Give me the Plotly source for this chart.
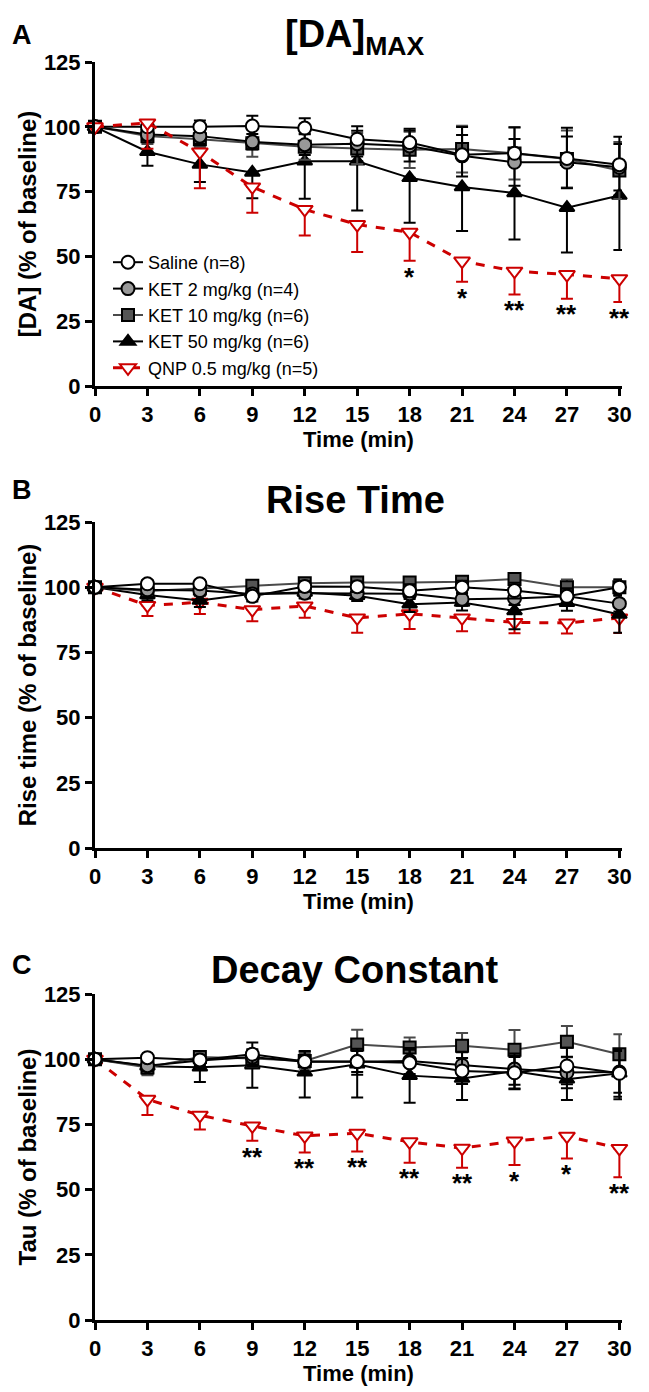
import plotly.graph_objects as go

W, H = 649, 1392
time_min = [0, 3, 6, 9, 12, 15, 18, 21, 24, 27, 30]
x_ticks = [0, 3, 6, 9, 12, 15, 18, 21, 24, 27, 30]
y_ticks = [0, 25, 50, 75, 100, 125]

series_names = ["Saline (n=8)", "KET 2 mg/kg (n=4)", "KET 10 mg/kg (n=6)",
                "KET 50 mg/kg (n=6)", "QNP 0.5 mg/kg (n=5)"]

# ---- Panel A: [DA]max ----
saline_A = [100, 100, 100, 100.3, 99.5, 95.2, 93.9, 89.2, 89.8, 87.8, 85.4]
saline_A_up = [0, 1.5, 2.4, 4, 3.8, 5, 5.3, 10.7, 10, 11.8, 10.8]
saline_A_dn = [0, 0, 0, 0, 0, 0, 0, 0, 0, 0, 0]
ket2_A = [100, 97, 96.4, 94.2, 93.1, 93.5, 92.6, 88.8, 86.3, 86.3, 84.4]
ket2_A_err = [0, 2, 3, 3, 4, 5, 6, 8, 9, 10, 9]
ket10_A = [100, 96.4, 95.2, 93.7, 92.3, 91.6, 91.1, 91.4, 89.7, 87.6, 83.1]
ket10_A_err = [0, 3, 3, 5.3, 5, 6, 7, 9, 10, 11, 11]
ket50_A = [100, 90.4, 85.5, 82.4, 86.7, 86.7, 80.3, 76.8, 74.5, 68.8, 73.5]
ket50_A_dn = [0, 5.4, 6.8, 10, 14.5, 19, 17.3, 17, 18, 17.3, 21]
qnp_A = [100, 101.5, 90.3, 76.8, 68.1, 62.3, 59.3, 48.2, 44.3, 43, 41.4]
qnp_A_dn = [0, 10, 14, 10, 10, 10.6, 11, 8, 9, 9.3, 9]
stars_A = ["", "", "", "", "", "", "*", "*", "**", "**", "**"]

# ---- Panel B: Rise time ----
saline_B = [100, 101.3, 101.3, 96.5, 100.3, 100.2, 98.6, 100, 98.7, 96.5, 100]
saline_B_err = [0, 1.5, 1.5, 2, 2, 2, 2.5, 2.5, 3, 3, 3]
ket2_B = [100, 99, 98.7, 97.4, 97.7, 97.6, 97.5, 95.4, 95.7, 96.5, 93.7]
ket2_B_err = [0, 1.5, 2, 2, 2, 2, 2, 2.5, 2.5, 3, 3]
ket10_B = [100, 98.5, 99.5, 100.6, 101.5, 101.8, 101.8, 102.1, 103.1, 100, 100]
ket10_B_err = [0, 1, 1.5, 1.5, 1.5, 1.5, 1.5, 1.5, 1.5, 3, 3]
ket50_B = [100, 97, 94.9, 97.5, 98, 96.7, 93.5, 94.1, 90.9, 94, 89.5]
ket50_B_dn = [0, 2, 2.5, 2, 2, 2, 3, 3, 7, 3, 7]
qnp_B = [100, 93, 94.2, 91.4, 92.8, 88.2, 89.8, 88.2, 86.5, 86.3, 88.2]
qnp_B_dn = [0, 4, 4.5, 4.5, 4.5, 5.7, 5.8, 5.1, 4.2, 4.1, 5.8]
stars_B = [""] * 11

# ---- Panel C: Decay constant (tau) ----
saline_C = [100, 100.6, 99.7, 101.9, 99.1, 99.1, 98.6, 95.5, 94.8, 97.4, 94.6]
saline_C_err = [0, 1, 1.5, 4.5, 4, 4, 5, 5, 6, 7, 9]
ket2_C = [100, 97.5, 99.5, 100.8, 99, 99, 99.3, 97.7, 96.2, 94.9, 95.1]
ket2_C_err = [0, 2, 2, 3, 4, 5, 5, 5, 6, 6, 8]
ket10_C = [100, 96.8, 100.8, 100.3, 99.3, 105.6, 104.5, 105.2, 103.6, 106.7, 101.9]
ket10_C_err = [0, 3, 2, 3, 3, 5.7, 3.8, 4.8, 7.6, 6, 7.7]
ket50_C = [100, 97.3, 96.9, 97.7, 95, 98.1, 93.7, 92.6, 95.4, 92.3, 94.6]
ket50_C_dn = [0, 3, 5.6, 8.6, 9.7, 12.8, 10.4, 8.2, 6.9, 7.9, 10]
qnp_C = [100, 84.6, 78.5, 74.4, 70.6, 71.6, 68.3, 65.9, 68.6, 70.5, 65.8]
qnp_C_dn = [0, 6, 5.5, 5.7, 6.4, 7, 8, 7.5, 9.2, 8.6, 11.1]
stars_C = ["", "", "", "**", "**", "**", "**", "**", "*", "*", "**"]

panels = [
    dict(title="[DA]<sub>MAX</sub>", letter="A", ylab="[DA] (% of baseline)",
         sal=(saline_A, saline_A_up, saline_A_dn), k2=(ket2_A, ket2_A_err, ket2_A_err),
         k10=(ket10_A, ket10_A_err, ket10_A_err), k50=(ket50_A, [0] * 11, ket50_A_dn),
         q=(qnp_A, [0] * 11, qnp_A_dn), stars=stars_A,
         order=["k50", "k10", "k2", "sal", "q"]),
    dict(title="Rise Time", letter="B", ylab="Rise time (% of baseline)",
         sal=(saline_B, saline_B_err, saline_B_err), k2=(ket2_B, ket2_B_err, ket2_B_err),
         k10=(ket10_B, ket10_B_err, [0] * 11), k50=(ket50_B, [0] * 11, ket50_B_dn),
         q=(qnp_B, [0] * 11, qnp_B_dn), stars=stars_B,
         order=["q", "k50", "k10", "k2", "sal"]),
    dict(title="Decay Constant", letter="C", ylab="Tau (% of baseline)",
         sal=(saline_C, saline_C_err, saline_C_err), k2=(ket2_C, ket2_C_err, ket2_C_err),
         k10=(ket10_C, ket10_C_err, ket10_C_err), k50=(ket50_C, [0] * 11, ket50_C_dn),
         q=(qnp_C, [0] * 11, qnp_C_dn), stars=stars_C,
         order=["q", "k50", "k10", "k2", "sal"]),
]

RED = "#CC0000"
FONT = "Liberation Sans, Arial, sans-serif"

OFF = 8  # page body margin offset
xdom = [(95 - OFF) / W, (622 - OFF) / W]
ydoms = [(62 - OFF, 386 - OFF), (522 - OFF, 848 - OFF), (994 - OFF, 1320 - OFF)]
title_y = [37 - OFF, 500 - OFF, 970 - OFF]
letter_y = [35 - OFF, 490 - OFF, 965 - OFF]
title_x = 355 - OFF
letter_x = 22 - OFF

styles = {
    "sal": dict(sym="circle", fill="white", line="black", lc="black", ec="black", dash="solid", rank=1, size=13),
    "k2": dict(sym="circle", fill="#999999", line="black", lc="black", ec="black", dash="solid", rank=2, size=13),
    "k10": dict(sym="square", fill="#555555", line="black", lc="#4a4a4a", ec="#4a4a4a", dash="solid", rank=3, size=12),
    "k50": dict(sym="triangle-up", fill="black", line="black", lc="black", ec="black", dash="solid", rank=4, size=13),
    "q": dict(sym="triangle-down", fill="white", line=RED, lc=RED, ec=RED, dash="dash", rank=5, size=14),
}
names = dict(zip(["sal", "k2", "k10", "k50", "q"], series_names))

fig = go.Figure()
layout = {}
annotations = []

for i, p in enumerate(panels):
    sfx = "" if i == 0 else str(i + 1)
    xa, ya = "x" + sfx, "y" + sfx
    top, bot = ydoms[i]
    for key in p["order"]:
        st = styles[key]
        vals, up, dn = p[key]
        fig.add_trace(go.Scatter(
            x=time_min, y=vals, xaxis=xa, yaxis=ya, mode="lines+markers",
            name=names[key], showlegend=(i == 0), legendrank=st["rank"],
            line=dict(color=st["lc"], width=3 if key == "q" else 2, dash=st["dash"]),
            marker=dict(symbol=st["sym"], size=st["size"], color=st["fill"],
                        line=dict(color=st["line"], width=2)),
            error_y=dict(type="data", symmetric=False, array=up, arrayminus=dn,
                         color=st["ec"], thickness=2, width=6),
            cliponaxis=False,
        ))
    ax_common = dict(showline=True, linewidth=3, linecolor="black", ticks="outside",
                     ticklen=7, tickwidth=3, tickcolor="black", showgrid=False, zeroline=False,
                     automargin=False,
                     tickfont=dict(family=FONT, size=22, color="black", weight="bold"))
    layout["xaxis" + sfx] = dict(ax_common, domain=xdom, range=[0, 30.15], tickvals=x_ticks,
                                 anchor=ya,
                                 title=dict(text="Time (min)", standoff=2,
                                            font=dict(family=FONT, size=22, color="black", weight="bold")))
    layout["yaxis" + sfx] = dict(ax_common, domain=[1 - bot / H, 1 - top / H], range=[0, 125],
                                 tickvals=y_ticks, anchor=xa,
                                 title=dict(text=p["ylab"], standoff=1,
                                            font=dict(family=FONT, size=24, color="black", weight="bold")))
    annotations.append(dict(text="<b>" + p["title"] + "</b>", x=title_x / W, y=1 - title_y[i] / H,
                            xref="paper", yref="paper", xanchor="center", yanchor="middle",
                            showarrow=False, font=dict(family=FONT, size=38, color="black")))
    annotations.append(dict(text="<b>" + p["letter"] + "</b>", x=letter_x / W, y=1 - letter_y[i] / H,
                            xref="paper", yref="paper", xanchor="center", yanchor="middle",
                            showarrow=False, font=dict(family=FONT, size=27, color="black")))
    qv, _, qdn = p["q"]
    for t, v, e, s in zip(time_min, qv, qdn, p["stars"]):
        if s:
            annotations.append(dict(text="<b>" + s + "</b>", x=t, y=v - e + 0.5, xref=xa, yref=ya,
                                    xanchor="center", yanchor="top", showarrow=False,
                                    font=dict(family=FONT, size=26, color="black")))

fig.update_layout(
    width=W, height=H, margin=dict(l=0, r=0, t=0, b=0),
    paper_bgcolor="white", plot_bgcolor="white",
    showlegend=True,
    legend=dict(x=100 / W, y=1 - 236 / H, xanchor="left", yanchor="top",
                bgcolor="rgba(0,0,0,0)", font=dict(family=FONT, size=18, color="black"),
                itemwidth=30, tracegroupgap=0),
    annotations=annotations,
    **layout,
)

fig.write_html("out.html")
